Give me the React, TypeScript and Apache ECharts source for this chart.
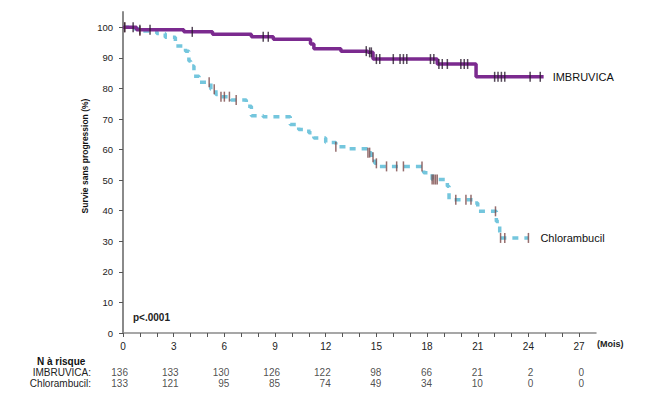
import React, { useEffect, useRef } from "react";
import * as echarts from "echarts";

// Kaplan-Meier step points [month, % PFS]
const imbruvicaCurve: number[][] = [
  [0, 100], [0.8, 99.2], [3.6, 98.5], [5.3, 97.7], [7.6, 96.9], [8.9, 96.1],
  [11.1, 94.5], [11.3, 93.0], [12.9, 92.2], [14.5, 91.8], [14.8, 89.6],
  [18.6, 88.0], [20.9, 83.8], [24.9, 83.8],
];
const chlorambucilCurve: number[][] = [
  [0, 100], [0.4, 99.5], [1.0, 98.8], [2.0, 98.0], [2.5, 96.7], [3.1, 93.9],
  [3.7, 92.2], [3.9, 89.0], [4.0, 87.3], [4.2, 84.0], [4.5, 82.0], [5.2, 79.7],
  [5.5, 78.0], [5.8, 77.3], [6.4, 76.2], [7.3, 74.2], [7.6, 71.1], [8.3, 70.7],
  [9.9, 68.2], [10.4, 66.6], [11.0, 65.5], [11.3, 63.8], [12.0, 62.3],
  [12.6, 60.9], [13.2, 60.3], [14.5, 59.0], [14.7, 57.5], [14.9, 55.5],
  [15.1, 54.5], [17.8, 52.4], [18.3, 50.2], [19.2, 48.0], [19.3, 43.6],
  [20.8, 42.5], [21.0, 39.8], [22.1, 36.5], [22.3, 31.1], [24.0, 31.1],
];
// censoring times (months)
const imbruvicaCensor = [
  0.1, 0.6, 1.0, 1.6, 4.1, 8.3, 8.6, 14.4, 14.6, 14.7, 15.0, 15.2, 16.0, 16.4,
  16.6, 16.8, 18.2, 18.4, 18.7, 18.9, 19.2, 20.0, 20.2, 20.4, 22.0, 22.2, 22.4,
  22.6, 24.1, 24.7,
];
const chlorambucilCensor = [
  0.1, 1.0, 5.1, 5.4, 5.8, 6.0, 6.3, 6.7, 12.6, 14.5, 14.6, 14.8, 15.0, 15.6,
  16.2, 16.6, 17.7, 18.3, 18.4, 18.5, 18.6, 19.7, 20.3, 20.6, 22.05, 22.35,
  22.6, 24.0,
];

const riskMonths = [0, 3, 6, 9, 12, 15, 18, 21, 24, 27];
const riskImbruvica = [136, 133, 130, 126, 122, 98, 66, 21, 2, 0];
const riskChlorambucil = [133, 121, 95, 85, 74, 49, 34, 10, 0, 0];
const riskRows = ["IMBRUVICA:", "Chlorambucil:"];

const yTicks = [0, 10, 20, 30, 40, 50, 60, 70, 80, 90, 100];
const xTicks = Array.from({ length: 28 }, (_, i) => i);
const xLabels = [0, 3, 6, 9, 12, 15, 18, 21, 24, 27];

const FONT = "Liberation Sans";
const PURPLE = "#7b2a8f";
const BLUE = "#74c6dd";

function stepValue(curve: number[][], t: number): number {
  let v = curve[0][1];
  for (const p of curve) {
    if (p[0] <= t) v = p[1];
  }
  return v;
}

export default function App() {
  const ref = useRef<HTMLDivElement>(null);
  useEffect(() => {
    if (!ref.current) return;
    const chart = echarts.init(ref.current, undefined, { renderer: "svg" });
    const censorStyle = (color: string) => ({
      type: "scatter" as const,
      symbol: "rect",
      symbolSize: [1.5, 10],
      itemStyle: { color },
      z: 5,
      silent: true,
    });
    chart.setOption({
      animation: false,
      backgroundColor: "#ffffff",
      textStyle: { fontFamily: FONT },
      grid: [
        { left: 123, right: 63, top: 12, bottom: 66 },
        { left: 123, right: 63, top: 367, height: 22 },
      ],
      xAxis: [
        {
          type: "value",
          gridIndex: 0,
          min: 0,
          max: 28,
          interval: 1,
          splitLine: { show: false },
          axisLine: { lineStyle: { color: "#8a8a8a", width: 1.5 } },
          axisTick: {
            length: 4,
            customValues: xTicks,
            lineStyle: { color: "#555" },
          },
          axisLabel: {
            customValues: xLabels,
            color: "#222",
            fontSize: 10,
            margin: 8,
            fontFamily: FONT,
          },
        },
        { type: "value", gridIndex: 1, min: 0, max: 28, show: false },
      ],
      yAxis: [
        {
          type: "value",
          gridIndex: 0,
          min: 0,
          max: 105,
          interval: 10,
          splitLine: { show: false },
          axisLine: { show: true, lineStyle: { color: "#8a8a8a", width: 2 } },
          axisTick: {
            show: true,
            length: 4,
            customValues: yTicks,
            lineStyle: { color: "#555" },
          },
          axisLabel: {
            customValues: yTicks,
            color: "#222",
            fontSize: 9.5,
            margin: 10,
            fontFamily: FONT,
          },
        },
        {
          type: "category",
          gridIndex: 1,
          data: riskRows,
          inverse: true,
          axisLine: { show: false },
          axisTick: { show: false },
          axisLabel: {
            interval: 0,
            color: "#222",
            fontSize: 10,
            margin: 32,
            fontFamily: FONT,
          },
        },
      ],
      series: [
        {
          name: "Chlorambucil",
          type: "line",
          step: "end",
          data: chlorambucilCurve,
          showSymbol: false,
          symbol: "none",
          lineStyle: { color: BLUE, width: 3.5, type: [6, 6], cap: "butt" },
          endLabel: {
            show: true,
            formatter: "Chlorambucil",
            distance: 12,
            color: "#111",
            fontSize: 11,
            fontFamily: FONT,
          },
          z: 2,
        },
        {
          name: "IMBRUVICA",
          type: "line",
          step: "end",
          data: imbruvicaCurve,
          showSymbol: false,
          symbol: "none",
          lineStyle: { color: PURPLE, width: 3.5 },
          endLabel: {
            show: true,
            formatter: "IMBRUVICA",
            distance: 9,
            color: "#111",
            fontSize: 11,
            fontFamily: FONT,
          },
          z: 3,
        },
        {
          ...censorStyle("#7a4848"),
          data: chlorambucilCensor.map((t) => [t, stepValue(chlorambucilCurve, t)]),
        },
        {
          ...censorStyle("#2a1a30"),
          data: imbruvicaCensor.map((t) => [t, stepValue(imbruvicaCurve, t)]),
        },
        {
          type: "scatter",
          xAxisIndex: 1,
          yAxisIndex: 1,
          symbolSize: 0,
          silent: true,
          data: [
            ...riskMonths.map((m, i) => [m, riskRows[0], riskImbruvica[i]]),
            ...riskMonths.map((m, i) => [m, riskRows[1], riskChlorambucil[i]]),
          ],
          label: {
            show: true,
            position: "inside",
            align: "right",
            offset: [5, 0],
            formatter: (p: any) => String(p.value[2]),
            color: "#222",
            fontSize: 10,
            fontFamily: FONT,
          },
        },
      ],
      graphic: [
        {
          type: "text",
          x: 85,
          y: 156,
          rotation: Math.PI / 2,
          style: {
            text: "Survie sans progression (%)",
            fontSize: 8.5,
            fontWeight: "bold",
            fontFamily: FONT,
            fill: "#111",
            align: "center",
            verticalAlign: "middle",
          },
        },
        {
          type: "text",
          x: 133,
          y: 317,
          style: {
            text: "p<.0001",
            fontSize: 10,
            fontWeight: "bold",
            fontFamily: FONT,
            fill: "#222",
            verticalAlign: "middle",
          },
        },
        {
          type: "text",
          x: 597,
          y: 344,
          style: {
            text: "(Mois)",
            fontSize: 9,
            fontWeight: "bold",
            fontFamily: FONT,
            fill: "#222",
            verticalAlign: "middle",
          },
        },
        {
          type: "text",
          x: 37,
          y: 361,
          style: {
            text: "N à risque",
            fontSize: 10,
            fontWeight: "bold",
            fontFamily: FONT,
            fill: "#111",
            verticalAlign: "middle",
          },
        },
      ],
    });
    return () => chart.dispose();
  }, []);
  return <div ref={ref} style={{ width: 659, height: 399, margin: -8 }} />;
}
